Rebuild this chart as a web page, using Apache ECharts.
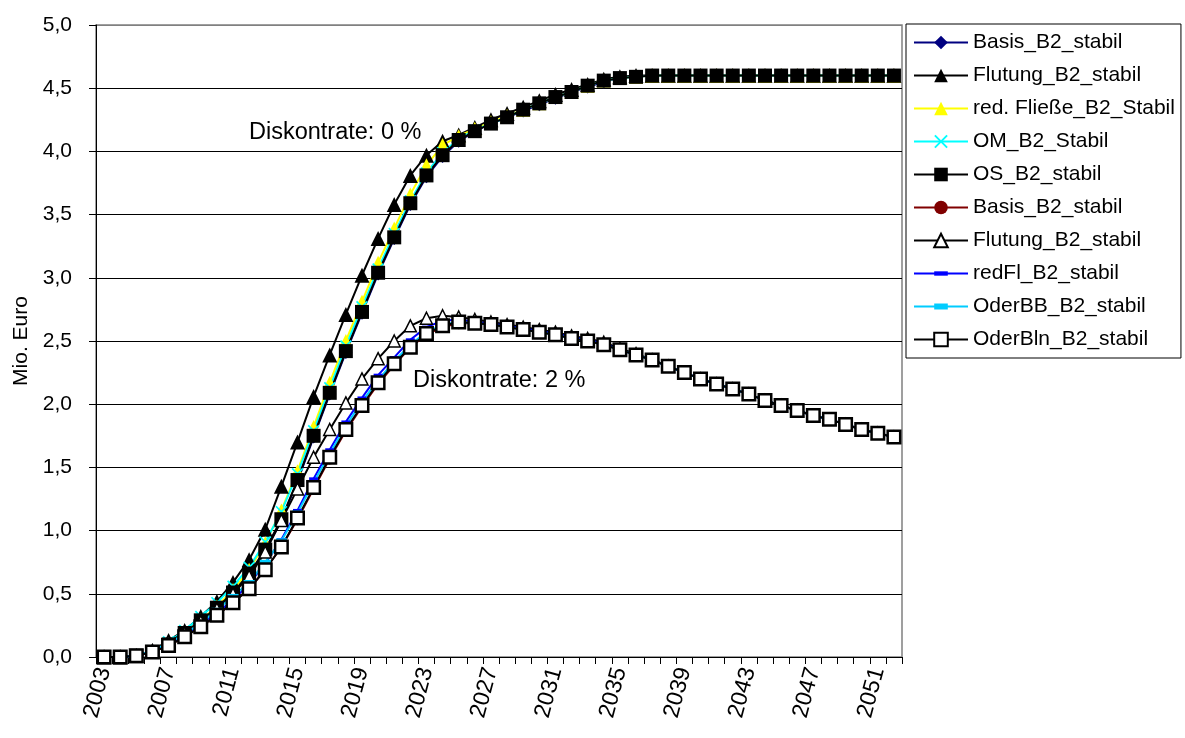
<!DOCTYPE html>
<html>
<head>
<meta charset="utf-8">
<script src="https://cdn.jsdelivr.net/npm/echarts/dist/echarts.min.js"></script>
<style>
html,body{margin:0;padding:0;background:#fff;}
#chart{width:1185px;height:738px;}
</style>
</head>
<body>
<div id="chart"></div>
<script>
var years = ['2003','2004','2005','2006','2007','2008','2009','2010','2011','2012',
             '2013','2014','2015','2016','2017','2018','2019','2020','2021','2022',
             '2023','2024','2025','2026','2027','2028','2029','2030','2031','2032',
             '2033','2034','2035','2036','2037','2038','2039','2040','2041','2042',
             '2043','2044','2045','2046','2047','2048','2049','2050','2051','2052'];

var yTicks = [0, 0.5, 1, 1.5, 2, 2.5, 3, 3.5, 4, 4.5, 5];

// Diskontrate 0 %
var basis0 = [0.00,0.00,0.01,0.04,0.10,0.18,0.28,0.39,0.51,0.65,
              0.84,1.08,1.39,1.74,2.08,2.41,2.72,3.03,3.31,3.58,
              3.80,3.96,4.08,4.16,4.22,4.27,4.32,4.37,4.42,4.47,
              4.51,4.55,4.58,4.59,4.60,4.60,4.60,4.60,4.60,4.60,
              4.60,4.60,4.60,4.60,4.60,4.60,4.60,4.60,4.60,4.60];
var flutung0 = [0.00,0.00,0.01,0.05,0.13,0.21,0.32,0.44,0.59,0.77,
              1.01,1.35,1.70,2.06,2.39,2.71,3.02,3.31,3.58,3.81,
              3.97,4.08,4.13,4.19,4.25,4.30,4.35,4.40,4.45,4.49,
              4.53,4.57,4.59,4.60,4.60,4.60,4.60,4.60,4.60,4.60,
              4.60,4.60,4.60,4.60,4.60,4.60,4.60,4.60,4.60,4.60];
var redFliesse0 = [0.00,0.00,0.01,0.04,0.11,0.19,0.29,0.40,0.53,0.69,
              0.90,1.16,1.47,1.82,2.17,2.50,2.81,3.12,3.39,3.66,
              3.89,4.05,4.12,4.18,4.23,4.28,4.33,4.38,4.43,4.47,
              4.52,4.56,4.58,4.59,4.60,4.60,4.60,4.60,4.60,4.60,
              4.60,4.60,4.60,4.60,4.60,4.60,4.60,4.60,4.60,4.60];
var om0 = [0.00,0.00,0.01,0.05,0.12,0.21,0.32,0.43,0.56,0.71,
              0.91,1.15,1.45,1.79,2.13,2.46,2.77,3.07,3.35,3.61,
              3.83,3.99,4.10,4.17,4.22,4.27,4.33,4.38,4.43,4.47,
              4.52,4.56,4.58,4.59,4.60,4.60,4.60,4.60,4.60,4.60,
              4.60,4.60,4.60,4.60,4.60,4.60,4.60,4.60,4.60,4.60];
var os0 = [0.00,0.00,0.01,0.04,0.10,0.19,0.29,0.39,0.51,0.66,
              0.85,1.09,1.40,1.75,2.09,2.42,2.73,3.04,3.32,3.59,
              3.81,3.97,4.09,4.16,4.22,4.27,4.33,4.38,4.43,4.47,
              4.52,4.56,4.58,4.59,4.60,4.60,4.60,4.60,4.60,4.60,
              4.60,4.60,4.60,4.60,4.60,4.60,4.60,4.60,4.60,4.60];

// Diskontrate 2 %
var basis2 = [0.00,0.00,0.01,0.04,0.09,0.16,0.24,0.33,0.43,0.54,
              0.69,0.87,1.09,1.33,1.57,1.79,1.98,2.16,2.31,2.45,
              2.55,2.61,2.64,2.64,2.63,2.61,2.59,2.57,2.55,2.52,
              2.50,2.47,2.43,2.39,2.35,2.30,2.25,2.20,2.16,2.12,
              2.08,2.03,1.99,1.95,1.91,1.88,1.84,1.80,1.77,1.74];
var flutung2 = [0.00,0.00,0.01,0.05,0.12,0.19,0.28,0.38,0.50,0.64,
              0.83,1.08,1.33,1.58,1.80,2.01,2.20,2.36,2.50,2.62,
              2.68,2.70,2.69,2.67,2.65,2.63,2.61,2.59,2.57,2.54,
              2.52,2.49,2.44,2.40,2.35,2.30,2.25,2.20,2.16,2.12,
              2.08,2.03,1.99,1.95,1.91,1.88,1.84,1.80,1.77,1.74];
var redFl2 = [0.00,0.00,0.01,0.04,0.10,0.17,0.26,0.35,0.45,0.58,
              0.74,0.93,1.16,1.41,1.64,1.86,2.05,2.23,2.37,2.51,
              2.61,2.66,2.67,2.65,2.64,2.62,2.60,2.58,2.56,2.53,
              2.51,2.48,2.43,2.39,2.35,2.30,2.25,2.20,2.16,2.12,
              2.08,2.03,1.99,1.95,1.91,1.88,1.84,1.80,1.77,1.74];
var oderBB2 = [0.00,0.00,0.01,0.05,0.11,0.18,0.27,0.37,0.48,0.59,
              0.75,0.92,1.14,1.38,1.61,1.83,2.02,2.19,2.34,2.47,
              2.57,2.63,2.65,2.64,2.63,2.61,2.59,2.57,2.55,2.52,
              2.50,2.47,2.43,2.39,2.35,2.30,2.25,2.20,2.16,2.12,
              2.08,2.03,1.99,1.95,1.91,1.88,1.84,1.80,1.77,1.74];
var oderBln2 = [0.00,0.00,0.01,0.04,0.09,0.16,0.24,0.33,0.43,0.54,
              0.69,0.87,1.10,1.34,1.58,1.80,1.99,2.17,2.32,2.45,
              2.56,2.62,2.65,2.64,2.63,2.61,2.59,2.57,2.55,2.52,
              2.50,2.47,2.43,2.39,2.35,2.30,2.25,2.20,2.16,2.12,
              2.08,2.03,1.99,1.95,1.91,1.88,1.84,1.80,1.77,1.74];

var FONT = '"Liberation Sans", Arial, sans-serif';
var X_PATH = 'path://M0,1L1,0L5,4L9,0L10,1L6,5L10,9L9,10L5,6L1,10L0,9L4,5Z';
var DASH_THIN = 'path://M0,0M10,10M0,3.4L10,3.4L10,6.6L0,6.6Z';
var DASH_THICK = 'path://M0,0M10,10M0,2.8L10,2.8L10,7.2L0,7.2Z';

function mk(name, data, color, symbol, size, fill, border, bw) {
  return {
    name: name, type: 'line', data: data,
    symbol: symbol, symbolSize: size, showSymbol: true, showAllSymbol: true,
    lineStyle: { color: color, width: 2 },
    itemStyle: { color: fill, borderColor: border || fill, borderWidth: bw || 0 },
    emphasis: { disabled: true },
    animation: false
  };
}

var series = [
  mk('Basis_B2_stabil', basis0, '#000080', 'diamond', 13, '#000080'),
  mk('Flutung_B2_stabil', flutung0, '#000000', 'triangle', 15, '#000000'),
  mk('red. Fließe_B2_Stabil', redFliesse0, '#FFFF00', 'triangle', 14, '#FFFF00'),
  mk('OM_B2_Stabil', om0, '#00FFFF', X_PATH, 12, '#00FFFF'),
  mk('OS_B2_stabil', os0, '#000000', 'rect', 14, '#000000'),
  mk('Basis_B2_stabil#2', basis2, '#800000', 'circle', 12, '#800000'),
  mk('Flutung_B2_stabil#2', flutung2, '#000000', 'triangle', 12, '#FFFFFF', '#000000', 1.5),
  mk('redFl_B2_stabil', redFl2, '#0000FF', DASH_THIN, 9, '#0000FF'),
  mk('OderBB_B2_stabil', oderBB2, '#00CCFF', DASH_THICK, 11, '#00CCFF'),
  mk('OderBln_B2_stabil', oderBln2, '#000000', 'rect', 12.5, '#FFFFFF', '#000000', 2.5)
];

var gridColors = yTicks.map(function (t, i) { return i === yTicks.length - 1 ? '#808080' : '#000000'; });

var chart = echarts.init(document.getElementById('chart'));
chart.setOption({
  backgroundColor: '#ffffff',
  animation: false,
  textStyle: { fontFamily: FONT },
  grid: { left: 96, right: 283, top: 25, bottom: 81, show: true, borderColor: '#808080', borderWidth: 1.5 },
  legend: {
    orient: 'vertical', left: 906, top: 24,
    padding: [8, 6, 8, 7],
    itemWidth: 54, itemHeight: 17, itemGap: 12,
    borderColor: '#000', borderWidth: 1, backgroundColor: '#fff',
    selectedMode: false,
    textStyle: { fontFamily: FONT, fontSize: 21, color: '#000', lineHeight: 21 },
    formatter: function (n) { return n.split('#')[0]; },
    data: series.map(function (s) { return s.name; })
  },
  xAxis: {
    type: 'category', data: years, boundaryGap: true,
    axisLine: { show: true, lineStyle: { color: '#000', width: 1 } },
    axisTick: { show: true, interval: 0, length: 7, lineStyle: { color: '#000' } },
    axisLabel: { interval: 3, rotate: 75, margin: 11, fontSize: 23, color: '#000', fontFamily: FONT },
    splitLine: { show: false }
  },
  yAxis: {
    type: 'value', min: yTicks[0], max: yTicks[yTicks.length - 1], interval: 0.5,
    name: 'Mio. Euro', nameLocation: 'middle', nameGap: 64,
    nameTextStyle: { fontSize: 21, color: '#000', fontFamily: FONT },
    axisLine: { show: true, lineStyle: { color: '#000', width: 1 } },
    axisTick: { show: true, length: 7, lineStyle: { color: '#000' } },
    axisLabel: { margin: 24, fontSize: 21, color: '#000', fontFamily: FONT,
      formatter: function (v) { return v.toFixed(1).replace('.', ','); } },
    splitLine: { show: true, lineStyle: { color: gridColors, width: 1 } }
  },
  graphic: [
    { type: 'text', x: 249, y: 133, silent: true,
      style: { text: 'Diskontrate: 0 %', font: '23.5px ' + FONT, fill: '#000', verticalAlign: 'middle' } },
    { type: 'text', x: 413, y: 381, silent: true,
      style: { text: 'Diskontrate: 2 %', font: '23.5px ' + FONT, fill: '#000', verticalAlign: 'middle' } }
  ],
  series: series
});
</script>
</body>
</html>
